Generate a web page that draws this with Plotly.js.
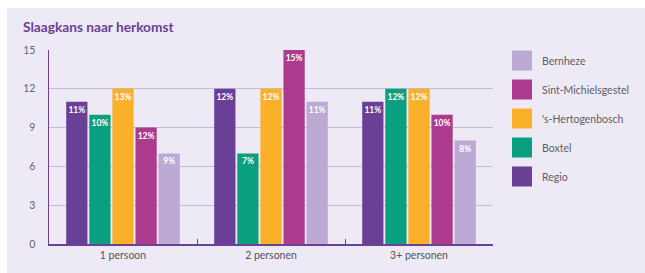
<!DOCTYPE html>
<html>
<head>
<meta charset="utf-8">
<script src="https://cdn.plot.ly/plotly-3.0.1.min.js"></script>
<style>
html,body{margin:0;padding:0;background:#ffffff;width:645px;height:273px;overflow:hidden;}
#chart{position:absolute;left:7px;top:8px;width:638px;height:265px;}
</style>
</head>
<body>
<div id="chart"></div>
<script>
const categories = ["1 persoon", "2 personen", "3+ personen"];
const seriesNames = ["Regio", "Boxtel", "'s-Hertogenbosch", "Sint-Michielsgestel", "Bernheze"];
const regio = [11, 12, 11];
const boxtel = [10, 7, 12];
const hertogenbosch = [12, 12, 12];
const sintMichielsgestel = [9, 15, 10];
const bernheze = [7, 11, 8];
const regioLabels = ["11%", "12%", "11%"];
const boxtelLabels = ["10%", "7%", "12%"];
const hertogenboschLabels = ["13%", "12%", "12%"];
const sintMichielsgestelLabels = ["12%", "15%", "10%"];
const bernhezeLabels = ["9%", "11%", "8%"];
const yTicks = [0, 3, 6, 9, 12, 15];

const colors = ["#6a3f96", "#0aa07f", "#fbb02a", "#ac3b8d", "#bcaad5"];
const values = [regio, boxtel, hertogenbosch, sintMichielsgestel, bernheze];
const labels = [regioLabels, boxtelLabels, hertogenboschLabels, sintMichielsgestelLabels, bernhezeLabels];

const traces = [];
for (let i = 0; i < seriesNames.length; i++) {
  traces.push({
    type: "bar",
    name: seriesNames[i],
    x: categories,
    y: values[i],
    text: labels[i],
    textposition: "inside",
    insidetextanchor: "end",
    constraintext: "none",
    textangle: 0,
    textfont: {family: "Lato, sans-serif", size: 8.5, color: "#ffffff", weight: 700},
    marker: {color: colors[i], line: {width: 0}},
    showlegend: false,
    hoverinfo: "skip"
  });
}
// legend entries (top to bottom: Bernheze ... Regio)
for (let i = seriesNames.length - 1; i >= 0; i--) {
  traces.push({
    type: "scatter",
    mode: "markers",
    name: seriesNames[i],
    x: [null],
    y: [null],
    legendgroup: "g" + i,
    marker: {symbol: "square", size: 16, color: colors[i], line: {width: 4, color: colors[i]}},
    showlegend: true,
    hoverinfo: "skip"
  });
}

const layout = {
  width: 638,
  height: 265,
  paper_bgcolor: "#eeeaf5",
  plot_bgcolor: "#eeeaf5",
  margin: {l: 42, r: 152, t: 42, b: 29, pad: 0},
  barmode: "group",
  bargap: 0.22,
  bargroupgap: 0.08,
  font: {family: "Lato, sans-serif", color: "#666666"},
  title: {
    text: "Slaagkans naar herkomst",
    font: {family: "Lato, sans-serif", size: 13.7, color: "#6b3f94", weight: 700},
    x: 16 / 638, xref: "container", xanchor: "left",
    y: 1 - 19 / 265, yref: "container", yanchor: "middle"
  },
  xaxis: {
    type: "category",
    showline: true, linecolor: "#6a3f96", linewidth: 2,
    ticks: "inside", tickson: "boundaries", ticklen: 5, tickcolor: "#6a3f96", tickwidth: 1,
    showgrid: false,
    tickfont: {size: 10.5, color: "#555555"},
    fixedrange: true
  },
  yaxis: {
    range: [0, 15],
    tickvals: yTicks,
    showline: true, linecolor: "#6a3f96", linewidth: 1.5,
    showgrid: true, gridcolor: "#c6bbdb", gridwidth: 1,
    zeroline: false,
    ticks: "", ticklabelstandoff: 10,
    tickfont: {size: 10.5, color: "#666666"},
    fixedrange: true
  },
  legend: {
    xref: "container", x: 495 / 638, xanchor: "left",
    yref: "container", y: 1 - 38 / 265, yanchor: "top",
    maxheight: 240,
    traceorder: "grouped",
    tracegroupgap: 10,
    font: {size: 10.5, color: "#606060", family: "Lato, sans-serif"},
    bgcolor: "rgba(0,0,0,0)"
  },
  showlegend: true
};

Plotly.newPlot("chart", traces, layout, {displayModeBar: false, staticPlot: true});
</script>
</body>
</html>
